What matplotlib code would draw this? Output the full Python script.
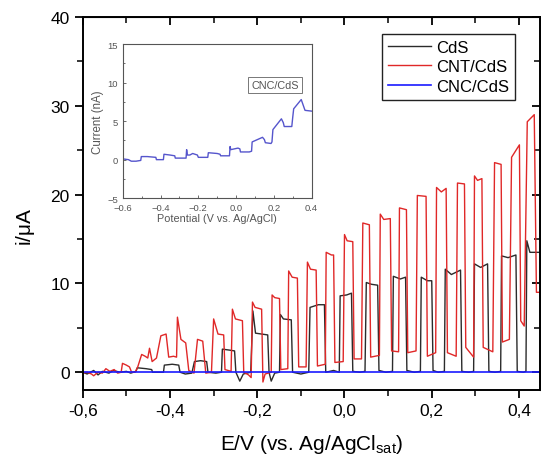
import numpy as np
import matplotlib
matplotlib.use("Agg")
import matplotlib.pyplot as plt
from matplotlib.ticker import MultipleLocator, FuncFormatter

plt.rcParams['font.family'] = ['Liberation Sans', 'DejaVu Sans']

### chopped-light photocurrent traces
cnt_x = [-0.600, -0.590, -0.580, -0.575, -0.565, -0.555, -0.547, -0.538, -0.528, -0.520,
         -0.512, -0.509, -0.500, -0.493, -0.488, -0.480, -0.474, -0.465, -0.457, -0.451,
         -0.447, -0.441, -0.431, -0.421, -0.409, -0.403, -0.392, -0.385, -0.383, -0.375,
         -0.364, -0.357, -0.345, -0.337, -0.325, -0.318, -0.305, -0.300, -0.290, -0.277,
         -0.274, -0.260, -0.257, -0.250, -0.234, -0.231, -0.220, -0.214, -0.211, -0.205,
         -0.190, -0.187, -0.182, -0.168, -0.166, -0.160, -0.149, -0.146, -0.130, -0.128,
         -0.120, -0.108, -0.105, -0.088, -0.085, -0.078, -0.065, -0.062, -0.044, -0.042,
         -0.030, -0.025, -0.022, -0.003, 0.000, 0.006, 0.019, 0.022, 0.039, 0.042,
         0.057, 0.060, 0.080, 0.082, 0.090, 0.105, 0.108, 0.124, 0.126, 0.142,
         0.145, 0.164, 0.167, 0.187, 0.190, 0.209, 0.211, 0.222, 0.233, 0.236,
         0.256, 0.259, 0.275, 0.278, 0.296, 0.298, 0.305, 0.315, 0.318, 0.340,
         0.344, 0.359, 0.362, 0.378, 0.383, 0.401, 0.404, 0.412, 0.419, 0.435,
         0.440, 0.448]
cnt_y = [-0.1, 0.0, -0.2, -0.4, 0.0, -0.1, 0.4, 0.1, 0.3, -0.1,
         0.0, 1.0, 0.8, 0.6, 0.0, 0.0, 0.6, 2.0, 1.8, 1.6,
         2.7, 1.2, 1.6, 4.1, 4.3, 1.7, 1.8, 1.7, 6.2, 3.7,
         3.3, 0.2, -0.1, 3.7, 3.5, -0.1, 0.0, 6.0, 4.3, 4.2,
         0.3, 0.1, 7.1, 6.0, 5.8, 0.0, -0.3, -0.6, 7.9, 7.3,
         7.1, -1.1, -0.2, 0.0, 8.7, 8.4, 8.3, 0.3, 0.4, 11.4,
         10.7, 10.6, 0.6, 0.6, 12.4, 11.6, 11.5, 0.7, 0.9, 13.5,
         13.2, 13.2, 1.1, 1.2, 15.5, 14.8, 14.7, 1.5, 1.5, 16.8,
         16.6, 1.7, 1.9, 17.8, 17.2, 17.3, 2.4, 2.3, 18.5, 18.3,
         2.2, 2.4, 19.9, 19.8, 1.8, 2.2, 20.8, 20.3, 20.7, 2.2,
         1.8, 21.3, 21.2, 2.8, 1.7, 22.1, 21.6, 21.8, 2.8, 2.3,
         23.6, 23.4, 3.4, 3.7, 24.2, 25.6, 5.8, 5.2, 28.2, 29.0,
         9.0, 9.0]

cds_x = [-0.600, -0.590, -0.575, -0.565, -0.555, -0.540, -0.530, -0.515, -0.500, -0.490,
         -0.478, -0.475, -0.455, -0.442, -0.440, -0.415, -0.413, -0.395, -0.380, -0.377,
         -0.365, -0.350, -0.344, -0.330, -0.316, -0.313, -0.295, -0.282, -0.280, -0.265,
         -0.252, -0.249, -0.240, -0.232, -0.215, -0.210, -0.204, -0.190, -0.176, -0.173,
         -0.168, -0.160, -0.149, -0.147, -0.140, -0.122, -0.119, -0.100, -0.082, -0.079,
         -0.060, -0.046, -0.043, -0.025, -0.012, -0.010, 0.005, 0.016, 0.019, 0.035,
         0.047, 0.050, 0.062, 0.076, 0.079, 0.095, 0.110, 0.112, 0.128, 0.140,
         0.143, 0.160, 0.174, 0.176, 0.190, 0.200, 0.203, 0.215, 0.229, 0.231,
         0.245, 0.266, 0.269, 0.285, 0.296, 0.298, 0.312, 0.328, 0.331, 0.345,
         0.358, 0.360, 0.375, 0.393, 0.396, 0.410, 0.416, 0.418, 0.425, 0.448]
cds_y = [0.0, -0.2, 0.2, -0.3, 0.1, -0.1, 0.2, 0.0, 0.1, -0.1,
         0.1, 0.5, 0.4, 0.3, 0.0, 0.0, 0.8, 0.9, 0.8, 0.0,
         -0.2, -0.1, 1.2, 1.3, 1.2, 0.0, -0.1, 0.0, 2.6, 2.5,
         2.4, 0.0, -1.0, -0.2, 0.0, 6.9, 4.4, 4.3, 4.2, 0.0,
         -1.0, -0.1, 0.0, 6.5, 6.0, 5.9, 0.0, -0.2, 0.0, 7.3,
         7.6, 7.6, 0.0, 0.2, 0.0, 8.6, 8.7, 8.9, 0.1, 0.0,
         0.1, 10.1, 9.9, 9.8, 0.2, 0.0, 0.1, 10.8, 10.5, 10.7,
         0.2, 0.0, 0.1, 10.7, 10.3, 10.3, 0.2, 0.0, 0.1, 11.6,
         11.0, 11.5, 0.1, 0.0, 0.1, 12.2, 11.8, 12.2, 0.1, 0.0,
         0.1, 13.1, 12.9, 13.2, 0.1, 0.0, 0.1, 14.8, 13.5, 13.5]

cnc_x = [-0.600, 0.448]
cnc_y = [0.0, 0.0]

### inset: CNC/CdS in nA
ins_x = [-0.600, -0.570, -0.555, -0.530, -0.505, -0.502, -0.470, -0.425, -0.422, -0.385,
         -0.382, -0.350, -0.325, -0.322, -0.265, -0.262, -0.258, -0.245, -0.230, -0.205,
         -0.200, -0.150, -0.147, -0.100, -0.085, -0.082, -0.035, -0.032, -0.028, 0.010,
         0.020, 0.023, 0.070, 0.082, 0.085, 0.140, 0.150, 0.155, 0.185, 0.190,
         0.195, 0.240, 0.250, 0.255, 0.295, 0.300, 0.305, 0.345, 0.365, 0.400]
ins_y = [0.1, 0.0, -0.2, -0.2, -0.1, 0.4, 0.4, 0.3, 0.0, 0.0,
         0.7, 0.6, 0.5, 0.2, 0.2, 1.3, 0.6, 0.6, 0.8, 0.6,
         0.3, 0.3, 0.9, 0.8, 0.7, 0.5, 0.5, 1.7, 1.3, 1.5,
         1.4, 1.0, 1.0, 1.1, 2.3, 2.9, 2.6, 2.2, 2.1, 2.3,
         3.9, 5.3, 4.8, 4.3, 4.3, 5.5, 6.6, 7.8, 6.4, 6.3]

fig = plt.figure(figsize=(5.41, 4.60), dpi=100)
ax = fig.add_axes([0.153, 0.15, 0.845, 0.811])

ax.plot(cds_x, cds_y, color='#2b2b2b', lw=1.0, label='CdS')
ax.plot(cnt_x, cnt_y, color='#e02828', lw=1.0, label='CNT/CdS')
ax.plot(cnc_x, cnc_y, color='#1a1aff', lw=1.2, label='CNC/CdS')

ax.set_xlim(-0.6, 0.448)
ax.set_ylim(-2, 40)
ax.xaxis.set_major_locator(MultipleLocator(0.2))
ax.xaxis.set_minor_locator(MultipleLocator(0.1))
ax.yaxis.set_major_locator(MultipleLocator(10))
ax.yaxis.set_minor_locator(MultipleLocator(5))
ax.xaxis.set_major_formatter(FuncFormatter(lambda v, p: f"{v:.1f}".replace('.', ',').replace('-0,0', '0,0')))
ax.tick_params(which='major', direction='out', length=6, width=1.3, labelsize=12.5)
ax.tick_params(which='minor', direction='out', length=4, width=1.1)
for s in ax.spines.values():
    s.set_linewidth(1.4)

# mirrored ticks pointing inward on top and right
top = ax.secondary_xaxis('top')
top.xaxis.set_major_locator(MultipleLocator(0.2))
top.xaxis.set_minor_locator(MultipleLocator(0.1))
top.tick_params(which='major', direction='in', length=6, width=1.3, labeltop=False)
top.tick_params(which='minor', direction='in', length=4, width=1.1)
right = ax.secondary_yaxis('right')
right.yaxis.set_major_locator(MultipleLocator(10))
right.yaxis.set_minor_locator(MultipleLocator(5))
right.tick_params(which='major', direction='in', length=6, width=1.3, labelright=False)
right.tick_params(which='minor', direction='in', length=4, width=1.1)

ax.set_xlabel(r'E/V (vs. Ag/AgCl$_{\mathregular{sat}}$)', fontsize=15, labelpad=10)
ax.set_ylabel(r'i/$\mathregular{\mu}$A', fontsize=15)
ax.yaxis.set_label_coords(-0.1, 0.44)

leg = ax.legend(loc='upper right', bbox_to_anchor=(0.945, 0.955), fontsize=12,
                fancybox=False, handlelength=2.6, borderpad=0.35, labelspacing=0.28,
                handletextpad=0.3, borderaxespad=0, framealpha=1)
leg.get_frame().set_edgecolor('#222222')
leg.get_frame().set_linewidth(1.0)

# inset
ins = fig.add_axes([0.227, 0.567, 0.349, 0.335])
ins.plot(ins_x, ins_y, color='#5555cc', lw=1.0)
ins.set_xlim(-0.6, 0.4)
ins.set_ylim(-5, 15)
ins.xaxis.set_major_locator(MultipleLocator(0.2))
ins.xaxis.set_minor_locator(MultipleLocator(0.1))
ins.yaxis.set_major_locator(MultipleLocator(5))
ins.yaxis.set_minor_locator(MultipleLocator(2.5))
ins.tick_params(which='both', direction='in', labelsize=6.8, colors='#555555', length=2.5, width=0.6)
ins.tick_params(which='minor', length=1.5)
for s in ins.spines.values():
    s.set_linewidth(0.8)
    s.set_color('#555555')
ins.set_xlabel('Potential (V vs. Ag/AgCl)', fontsize=7.8, color='#555555', labelpad=1)
ins.set_ylabel('Current (nA)', fontsize=8.3, color='#555555', labelpad=2)
ins.text(0.205, 9.7, 'CNC/CdS', fontsize=7.8, color='#555555', ha='center', va='center',
         bbox=dict(boxstyle='square,pad=0.3', fc='white', ec='#777777', lw=0.7))

plt.savefig('out.png', dpi=100)
